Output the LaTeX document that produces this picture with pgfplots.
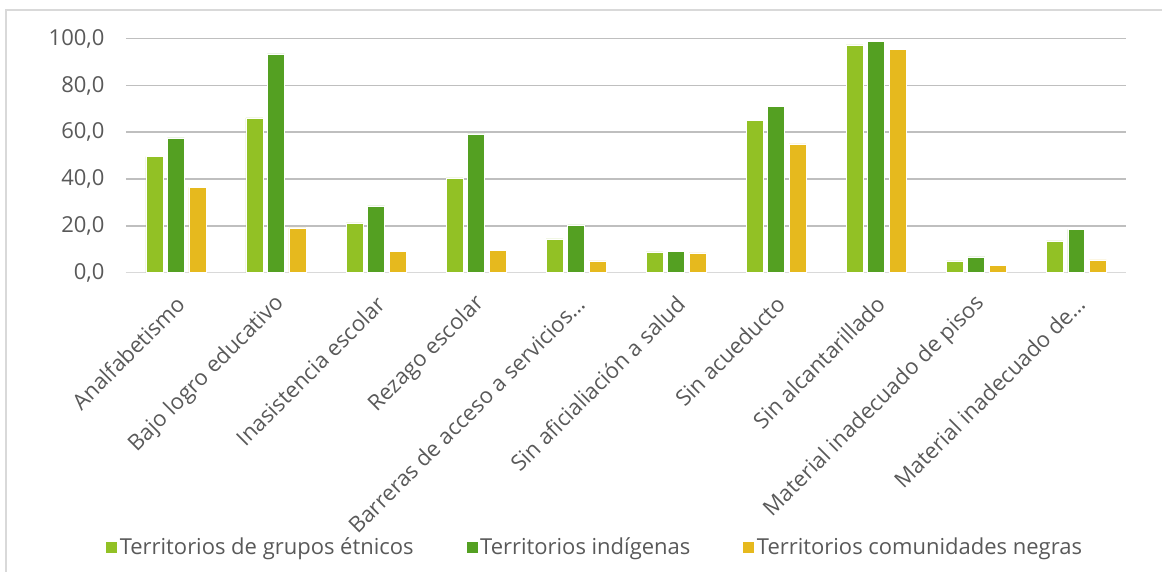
\documentclass[border=0pt]{standalone}
\usepackage{pgfplots}
\pgfplotsset{compat=1.18}
\usepackage{fontspec}
\setmainfont{Open Sans}
\definecolor{lg}{HTML}{92C125}
\definecolor{dg}{HTML}{54A022}
\definecolor{yl}{HTML}{E6B91E}
\definecolor{txt}{HTML}{595959}
\definecolor{grid}{HTML}{D9D9D9}
\begin{document}
\fontsize{22bp}{26bp}\selectfont
\begin{tikzpicture}
\begin{axis}[
  scale only axis, width=1001bp, height=234bp,
  ymin=0, ymax=100, xmin=-0.5, xmax=9.5,
  ytick={0,20,40,60,80,100},
  yticklabel style={text=txt, xshift=-14bp, /pgf/number format/fixed, /pgf/number format/fixed zerofill, /pgf/number format/precision=1, /pgf/number format/use comma, /pgf/number format/assume math mode=true},
  ymajorgrids=true, xmajorgrids=false, grid style={grid, line width=1.5bp},
  axis x line*=bottom, axis y line*=left,
  y axis line style={draw=none},
  x axis line style={grid, line width=1.5bp, -},
  major tick length=0pt,
  xtick={0,...,9},
  xticklabels={Analfabetismo, Bajo logro educativo, Inasistencia escolar, Rezago escolar, Barreras de acceso a servicios…, Sin aficialiación a salud, Sin acueducto, Sin alcantarillado, Material inadecuado de pisos, Material inadecuado de…},
  xticklabel style={rotate=45, anchor=east, xshift=-9bp, yshift=-23bp, text=txt},
  ybar, bar width=17bp,
  legend style={at={(0.4685,-1.1765)}, anchor=center, draw=none, legend columns=3, text=txt, /tikz/every even column/.append style={column sep=50bp}},
  legend image code/.code={\fill[#1] (0bp,-6bp) rectangle (12bp,6bp);},
]
\addplot[fill=lg, draw=white, line width=0.6bp, bar shift=-21.5bp] coordinates {(0,49.6) (1,66.1) (2,21.2) (3,40.5) (4,14.4) (5,8.8) (6,65.1) (7,97.3) (8,5.0) (9,13.5)};
\addplot[fill=dg, draw=white, line width=0.6bp, bar shift=0bp] coordinates {(0,57.6) (1,93.5) (2,28.5) (3,59.3) (4,20.4) (5,9.1) (6,71.2) (7,98.7) (8,6.7) (9,18.5)};
\addplot[fill=yl, draw=white, line width=0.6bp, bar shift=21.5bp] coordinates {(0,36.4) (1,19.1) (2,9.1) (3,9.3) (4,5.0) (5,8.4) (6,55.0) (7,95.3) (8,2.9) (9,5.4)};
\legend{Territorios de grupos étnicos, Territorios indígenas, Territorios comunidades negras}
\end{axis}
\draw[grid, line width=1.5bp] (-120bp,-299.3bp) -- (-120bp,262.7bp) -- (1037bp,262.7bp);
\path[use as bounding box] (-126bp,272.7bp) rectangle (1037bp,-299.3bp);
\end{tikzpicture}
\end{document}
